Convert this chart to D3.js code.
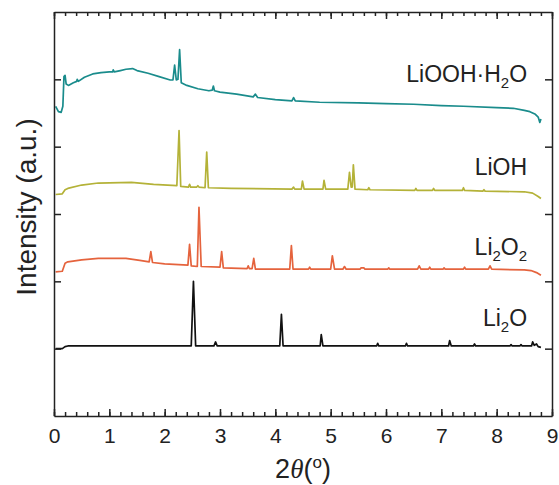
<!DOCTYPE html>
<html>
<head>
<meta charset="utf-8">
<script src="https://cdn.jsdelivr.net/npm/d3@7/dist/d3.min.js"></script>
<style>
  body { margin: 0; background: #fff; }
  svg { display: block; font-family: Arial, "Liberation Sans", sans-serif; }
  .axis path, .axis line { stroke: #222; stroke-width: 1.5; }
  .axis text { fill: #222; font-size: 21px; }
</style>
</head>
<body>
<svg width="559" height="485"></svg>
<script>
(function(d3) {
    "use strict";

    // traces: [2theta, offset intensity]
    var li2o = [
        [0.03, 1.0], [0.15, 1.0], [0.2, 1.03], [0.25, 1.04],
        [2.48, 1.04], [2.52, 2.0], [2.56, 1.04],
        [2.89, 1.04], [2.92, 1.1], [2.95, 1.04],
        [4.08, 1.04], [4.11, 1.51], [4.14, 1.04],
        [4.81, 1.04], [4.83, 1.21], [4.86, 1.04],
        [5.83, 1.04], [5.85, 1.08], [5.87, 1.04],
        [6.35, 1.04], [6.37, 1.08], [6.39, 1.04],
        [7.13, 1.04], [7.15, 1.12], [7.18, 1.04],
        [7.58, 1.04], [7.6, 1.07], [7.62, 1.04],
        [8.24, 1.04], [8.26, 1.06], [8.28, 1.04],
        [8.42, 1.04], [8.44, 1.06], [8.46, 1.04],
        [8.63, 1.04], [8.65, 1.1], [8.68, 1.05], [8.72, 1.07], [8.75, 1.03], [8.8, 1.02]
    ];

    var li2o2 = [
        [0.03, 2.14], [0.15, 2.15], [0.2, 2.27], [0.25, 2.29], [0.5, 2.32], [0.8, 2.34],
        [1.3, 2.34], [1.55, 2.31], [1.72, 2.29], [1.75, 2.44], [1.78, 2.28], [2.0, 2.26],
        [2.42, 2.24], [2.45, 2.55], [2.48, 2.23], [2.59, 2.22], [2.62, 3.1], [2.66, 2.22],
        [3.0, 2.21], [3.03, 2.44], [3.06, 2.2], [3.49, 2.19], [3.51, 2.23], [3.53, 2.19],
        [3.58, 2.19], [3.61, 2.34], [3.64, 2.18], [4.26, 2.18], [4.29, 2.53], [4.32, 2.18],
        [4.6, 2.18], [4.62, 2.21], [4.64, 2.18], [5.0, 2.18], [5.03, 2.38], [5.07, 2.18],
        [5.22, 2.18], [5.25, 2.22], [5.28, 2.18], [5.53, 2.18], [5.55, 2.2], [5.6, 2.2],
        [5.62, 2.18], [6.03, 2.18], [6.05, 2.2], [6.07, 2.18], [6.57, 2.18], [6.6, 2.23],
        [6.63, 2.18], [6.77, 2.18], [6.79, 2.21], [6.81, 2.18], [7.03, 2.18], [7.05, 2.2],
        [7.07, 2.18], [7.4, 2.18], [7.42, 2.21], [7.44, 2.18], [7.85, 2.18], [7.88, 2.23],
        [7.91, 2.18], [8.5, 2.17], [8.62, 2.16], [8.72, 2.13], [8.8, 2.09]
    ];

    var lioh = [
        [0.03, 3.29], [0.15, 3.3], [0.2, 3.36], [0.25, 3.38], [0.5, 3.43], [0.8, 3.46],
        [1.4, 3.47], [1.8, 3.44], [2.22, 3.42], [2.26, 4.24], [2.29, 3.41], [2.43, 3.4],
        [2.45, 3.44], [2.47, 3.4], [2.58, 3.4], [2.6, 3.42], [2.62, 3.4], [2.73, 3.39],
        [2.76, 3.92], [2.79, 3.39], [3.2, 3.38], [4.3, 3.37], [4.33, 3.4], [4.35, 3.37],
        [4.47, 3.37], [4.49, 3.49], [4.52, 3.37], [4.86, 3.37], [4.88, 3.5], [4.91, 3.37],
        [5.31, 3.37], [5.34, 3.62], [5.37, 3.4], [5.39, 3.4], [5.41, 3.73], [5.44, 3.37],
        [5.67, 3.36], [5.69, 3.39], [5.71, 3.36], [6.52, 3.35], [6.54, 3.38], [6.56, 3.35],
        [6.84, 3.35], [6.86, 3.38], [6.88, 3.35], [7.38, 3.35], [7.4, 3.39], [7.42, 3.35],
        [7.75, 3.34], [7.77, 3.36], [7.79, 3.34], [8.5, 3.33], [8.65, 3.31], [8.75, 3.26],
        [8.8, 3.23]
    ];

    var liooh = [
        [0.03, 4.6], [0.08, 4.52], [0.13, 4.51], [0.16, 4.6], [0.18, 5.04], [0.2, 5.06],
        [0.22, 4.93], [0.26, 4.91], [0.35, 4.95], [0.41, 4.97], [0.42, 5.0], [0.44, 4.97],
        [0.55, 5.03], [0.7, 5.08], [0.85, 5.1], [1.0, 5.11], [1.06, 5.11], [1.07, 5.14],
        [1.09, 5.11], [1.2, 5.13], [1.3, 5.15], [1.42, 5.16], [1.5, 5.13], [1.7, 5.09],
        [1.9, 5.04], [2.1, 4.99], [2.15, 4.99], [2.18, 5.21], [2.21, 4.99], [2.24, 5.0],
        [2.27, 5.44], [2.3, 4.95], [2.4, 4.91], [2.6, 4.86], [2.8, 4.83], [2.86, 4.84],
        [2.88, 4.9], [2.9, 4.83], [3.0, 4.81], [3.3, 4.78], [3.6, 4.74], [3.64, 4.78],
        [3.68, 4.73], [4.0, 4.7], [4.3, 4.68], [4.33, 4.73], [4.36, 4.68], [4.8, 4.66],
        [5.5, 4.65], [6.0, 4.64], [6.5, 4.63], [7.0, 4.61], [7.4, 4.6], [8.0, 4.58],
        [8.3, 4.57], [8.5, 4.54], [8.6, 4.52], [8.7, 4.48], [8.75, 4.44], [8.78, 4.36],
        [8.8, 4.41]
    ];

    var seriesNames = ["Li2O", "Li2O2", "LiOH", "LiOOH·H2O"],
        seriesColors = ["#111111", "#e5633d", "#b4b238", "#1a8c8c"],
        seriesData = [li2o, li2o2, lioh, liooh],
        labelY = [1.34, 2.39, 3.58, 4.96],
        xTicks = [0, 1, 2, 3, 4, 5, 6, 7, 8, 9],
        yTicks = [1, 2, 3, 4, 5];

    var svg = d3.select("svg"),
        margin = {top: 12, right: 7, bottom: 69, left: 54},
        width = +svg.attr("width") - margin.left - margin.right,
        height = +svg.attr("height") - margin.top - margin.bottom,
        g = svg.append("g").attr("transform", "translate(" + margin.left + "," + margin.top + ")");

    var x = d3.scaleLinear().domain([0, 9]).range([0, width]),
        y = d3.scaleLinear().domain([0, 6]).range([height, 0]),
        minor = d3.range(0, 9.01, 0.2).map(function(v) { return +v.toFixed(1); });

    var line = d3.line()
        .x(function(d) { return x(d[0]); })
        .y(function(d) { return y(d[1]); });

    g.selectAll(".trace")
        .data(seriesData)
        .enter().append("path")
        .attr("class", "trace")
        .attr("fill", "none")
        .attr("stroke", function(d, i) { return seriesColors[i]; })
        .attr("stroke-width", 1.7)
        .attr("stroke-linejoin", "round")
        .attr("d", line);

    // minor ticks first, then major axes on top
    g.append("g").attr("class", "axis").attr("transform", "translate(0," + height + ")")
        .call(d3.axisBottom(x).tickValues(minor).tickSize(-4).tickFormat(""))
        .select(".domain").remove();
    g.append("g").attr("class", "axis")
        .call(d3.axisTop(x).tickValues(minor).tickSize(-4).tickFormat(""))
        .select(".domain").remove();

    g.append("g").attr("class", "axis").attr("transform", "translate(0," + height + ")")
        .call(d3.axisBottom(x).tickValues(xTicks).tickSize(-7).tickSizeOuter(0).tickPadding(12));
    g.append("g").attr("class", "axis")
        .call(d3.axisTop(x).tickValues(xTicks).tickSize(-7).tickSizeOuter(0).tickFormat(""));
    g.append("g").attr("class", "axis")
        .call(d3.axisLeft(y).tickValues(yTicks).tickSize(-7).tickSizeOuter(0).tickFormat(""));
    g.append("g").attr("class", "axis").attr("transform", "translate(" + width + ",0)")
        .call(d3.axisRight(y).tickValues(yTicks).tickSize(-7).tickSizeOuter(0).tickFormat(""));

    // series labels, digits set as subscripts
    var labels = g.selectAll(".label")
        .data(seriesNames)
        .enter().append("text")
        .attr("class", "label")
        .attr("x", x(8.55))
        .attr("y", function(d, i) { return y(labelY[i]); })
        .attr("text-anchor", "end")
        .attr("font-size", 23)
        .attr("fill", "#222");

    labels.each(function(name) {
        var t = d3.select(this),
            shift = 0;
        name.split(/(2)/).forEach(function(part) {
            if (!part) return;
            var sub = part === "2",
                target = sub ? 6 : 0;
            t.append("tspan")
                .attr("dy", target - shift)
                .attr("font-size", sub ? 15 : null)
                .text(part);
            shift = target;
        });
    });

    svg.append("text")
        .attr("transform", "translate(36,207) rotate(-90)")
        .attr("text-anchor", "middle")
        .attr("font-size", 28)
        .attr("fill", "#222")
        .text("Intensity (a.u.)");

    var xl = svg.append("text")
        .attr("x", margin.left + x(4.5))
        .attr("y", 478)
        .attr("text-anchor", "middle")
        .attr("font-size", 27)
        .attr("fill", "#222");
    xl.append("tspan").text("2");
    xl.append("tspan").attr("font-style", "italic").attr("font-family", "'Liberation Serif', serif").text("θ");
    xl.append("tspan").text("(");
    xl.append("tspan").attr("font-size", 17).attr("dy", -10).text("o");
    xl.append("tspan").attr("dy", 10).text(")");

}(d3));
</script>
</body>
</html>
